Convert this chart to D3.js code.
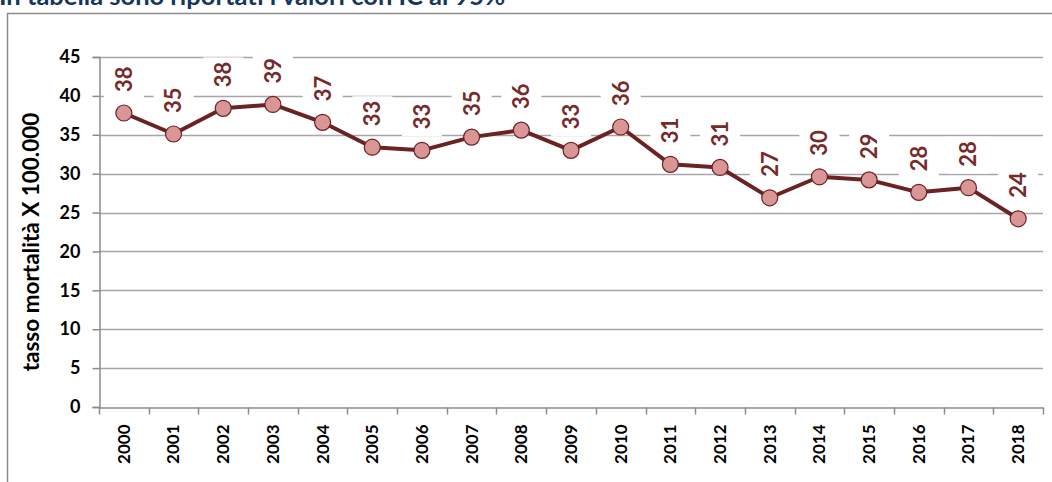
<!DOCTYPE html>
<html>
<head>
<meta charset="utf-8">
<script src="https://cdn.jsdelivr.net/npm/d3@7"></script>
<style>
  body { margin: 0; background: #fff; }
  svg { display: block; font-family: Lato, "Open Sans", sans-serif; }
</style>
</head>
<body>
<script>
// anni e tasso di mortalità (x 100.000)
var years = ["2000","2001","2002","2003","2004","2005","2006","2007","2008","2009",
             "2010","2011","2012","2013","2014","2015","2016","2017","2018"];
var rates = [37.8, 35.1, 38.4, 38.9, 36.6, 33.4, 33.0, 34.7, 35.6, 33.0,
             36.0, 31.2, 30.8, 26.9, 29.6, 29.2, 27.6, 28.2, 24.2];
var yTicks = [0, 5, 10, 15, 20, 25, 30, 35, 40, 45];

var width = 1052, height = 482;
var plotLeft = 99, plotRight = 1043, plotTop = 57, plotBottom = 407;

var svg = d3.select("body").append("svg")
    .attr("width", width)
    .attr("height", height);

// titolo tagliato in alto
svg.append("text")
    .attr("x", -1)
    .attr("y", 5)
    .attr("fill", "#17365d")
    .attr("font-weight", "bold")
    .attr("font-size", 25.5)
    .text("In tabella sono riportati i valori con IC al 95%");

// cornice del grafico
svg.append("rect")
    .attr("x", 7.5).attr("y", 13.5)
    .attr("width", 1060).attr("height", 500)
    .attr("fill", "none")
    .attr("stroke", "#8c8c8c")
    .attr("stroke-width", 1.5);

var x = d3.scaleBand().domain(years).range([plotLeft, plotRight]);
var y = d3.scaleLinear().domain([0, 45]).range([plotBottom, plotTop]);

// griglia
svg.append("g").selectAll("line")
    .data(yTicks.slice(1))
    .enter().append("line")
    .attr("x1", plotLeft).attr("x2", plotRight)
    .attr("y1", function(d) { return Math.round(y(d)) + 0.5; })
    .attr("y2", function(d) { return Math.round(y(d)) + 0.5; })
    .attr("stroke", "#a6a6a6")
    .attr("stroke-width", 1.5);

// asse y
var yAxis = svg.append("g")
    .attr("transform", "translate(" + (plotLeft + 0.5) + ",0)")
    .call(d3.axisLeft(y).tickValues(yTicks).tickSize(7).tickPadding(12));
yAxis.select(".domain").attr("stroke", "#8c8c8c").attr("stroke-width", 1.5);
yAxis.selectAll(".tick line").attr("stroke", "#8c8c8c").attr("stroke-width", 1.5);
yAxis.selectAll(".tick text")
    .attr("font-size", 18)
    .attr("font-weight", "bold")
    .attr("font-family", "Lato, sans-serif")
    .attr("fill", "#000");

// asse x
var xAxis = svg.append("g")
    .attr("transform", "translate(0," + (Math.round(plotBottom) + 0.5) + ")")
    .call(d3.axisBottom(x).tickSize(0).tickPadding(0));
xAxis.select(".domain").attr("stroke", "#8c8c8c").attr("stroke-width", 1.5);
xAxis.selectAll(".tick text")
    .attr("font-size", 17)
    .attr("font-weight", "bold")
    .attr("font-family", "Lato, sans-serif")
    .attr("fill", "#000")
    .attr("transform", "translate(0,17) rotate(-90)")
    .attr("text-anchor", "end")
    .attr("dy", "0.35em")
    .attr("y", 0)
    .attr("x", 0);

// tacche tra le categorie
var bounds = years.map(function(d) { return x(d); }).concat([plotRight]);
xAxis.selectAll("line.sep")
    .data(bounds)
    .enter().append("line")
    .attr("class", "sep")
    .attr("x1", function(d) { return Math.round(d) + 0.5; })
    .attr("x2", function(d) { return Math.round(d) + 0.5; })
    .attr("y1", 0).attr("y2", 7)
    .attr("stroke", "#8c8c8c")
    .attr("stroke-width", 1.5);

// titolo asse y
svg.append("text")
    .attr("transform", "translate(39," + ((plotTop + plotBottom) / 2 + 10) + ") rotate(-90)")
    .attr("text-anchor", "middle")
    .attr("font-size", 22.5)
    .attr("font-weight", "bold")
    .attr("fill", "#000")
    .text("tasso mortalità X 100.000");

var cx = function(d, i) { return x(years[i]) + x.bandwidth() / 2; };

// etichette con sfondo bianco
var labels = svg.append("g").selectAll("g")
    .data(rates)
    .enter().append("g")
    .attr("transform", function(d, i) {
        return "translate(" + cx(d, i) + "," + (y(d) - 21) + ")";
    });
labels.append("rect")
    .attr("x", -20).attr("y", -30)
    .attr("width", 40).attr("height", 37)
    .attr("fill", "#fff");
labels.append("text")
    .attr("transform", "rotate(-90)")
    .attr("x", 0)
    .attr("y", 0)
    .attr("dy", "0.36em")
    .attr("text-anchor", "start")
    .attr("font-size", 22)
    .attr("font-weight", "bold")
    .attr("fill", "#772a2a")
    .text(function(d) { return Math.round(d); });

// linea
var line = d3.line()
    .x(function(d, i) { return cx(d, i); })
    .y(function(d) { return y(d); });

svg.append("path")
    .datum(rates)
    .attr("d", line)
    .attr("fill", "none")
    .attr("stroke", "#6b2222")
    .attr("stroke-width", 4)
    .attr("stroke-linejoin", "round");

svg.append("g").selectAll("circle")
    .data(rates)
    .enter().append("circle")
    .attr("cx", cx)
    .attr("cy", function(d) { return y(d); })
    .attr("r", 8)
    .attr("fill", "#d99694")
    .attr("stroke", "#6b2222")
    .attr("stroke-width", 1.2);
</script>
</body>
</html>
